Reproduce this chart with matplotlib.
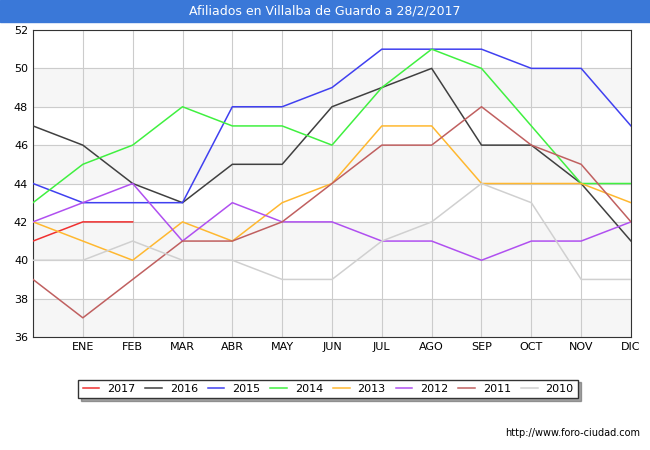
import matplotlib
matplotlib.use("Agg")
import matplotlib.pyplot as plt

months = ["", "ENE", "FEB", "MAR", "ABR", "MAY", "JUN", "JUL", "AGO", "SEP", "OCT", "NOV", "DIC"]
s2017 = [41, 42, 42]
s2016 = [47, 46, 44, 43, 45, 45, 48, 49, 50, 46, 46, 44, 41]
s2015 = [44, 43, 43, 43, 48, 48, 49, 51, 51, 51, 50, 50, 47]
s2014 = [43, 45, 46, 48, 47, 47, 46, 49, 51, 50, 47, 44, 44]
s2013 = [42, 41, 40, 42, 41, 43, 44, 47, 47, 44, 44, 44, 43]
s2012 = [42, 43, 44, 41, 43, 42, 42, 41, 41, 40, 41, 41, 42]
s2011 = [39, 37, 39, 41, 41, 42, 44, 46, 46, 48, 46, 45, 42]
s2010 = [40, 40, 41, 40, 40, 39, 39, 41, 42, 44, 43, 39, 39]

series = [("2017", s2017, "#f03030"), ("2016", s2016, "#404040"), ("2015", s2015, "#4040f0"),
          ("2014", s2014, "#40f040"), ("2013", s2013, "#ffb830"), ("2012", s2012, "#b050f0"),
          ("2011", s2011, "#c06060"), ("2010", s2010, "#d0d0d0")]

fig = plt.figure(figsize=(6.5, 4.5), dpi=100)
ax = fig.add_axes([33/650, 1-337/450, 598/650, 307/450])
for lo in [36, 40, 44, 48]:
    ax.axhspan(lo, lo+2, color="#f6f6f6", zorder=0)
for name, vals, c in series:
    ax.plot(range(len(vals)), vals, color=c, lw=1.1, label=name, zorder=3)
ax.set_xlim(0, 12)
ax.set_ylim(36, 52)
ax.set_xticks(range(13))
ax.set_xticklabels(months)
ax.set_yticks(range(36, 53, 2))
ax.grid(True, color="#cccccc", lw=0.8, zorder=1)
ax.tick_params(labelsize=8, length=0)
for s in ax.spines.values():
    s.set_color("#333333")
fig.patches.append(plt.Rectangle((0, 1-22/450), 1, 22/450, transform=fig.transFigure,
                                 color="#3a78d8", zorder=0))
fig.text(0.5, 1-11/450, "Afiliados en Villalba de Guardo a 28/2/2017", ha="center", va="center",
         color="white", fontsize=9)
leg = fig.legend(loc="center", bbox_to_anchor=(328/650, 1-389/450), ncol=8, fontsize=8,
                 frameon=True, fancybox=False, edgecolor="#333333", handlelength=1.5,
                 handletextpad=0.7, columnspacing=0.9, shadow=True)
fig.text(640/650, 1-433/450, "http://www.foro-ciudad.com", ha="right", va="center", fontsize=7)
fig.savefig("out.png")
